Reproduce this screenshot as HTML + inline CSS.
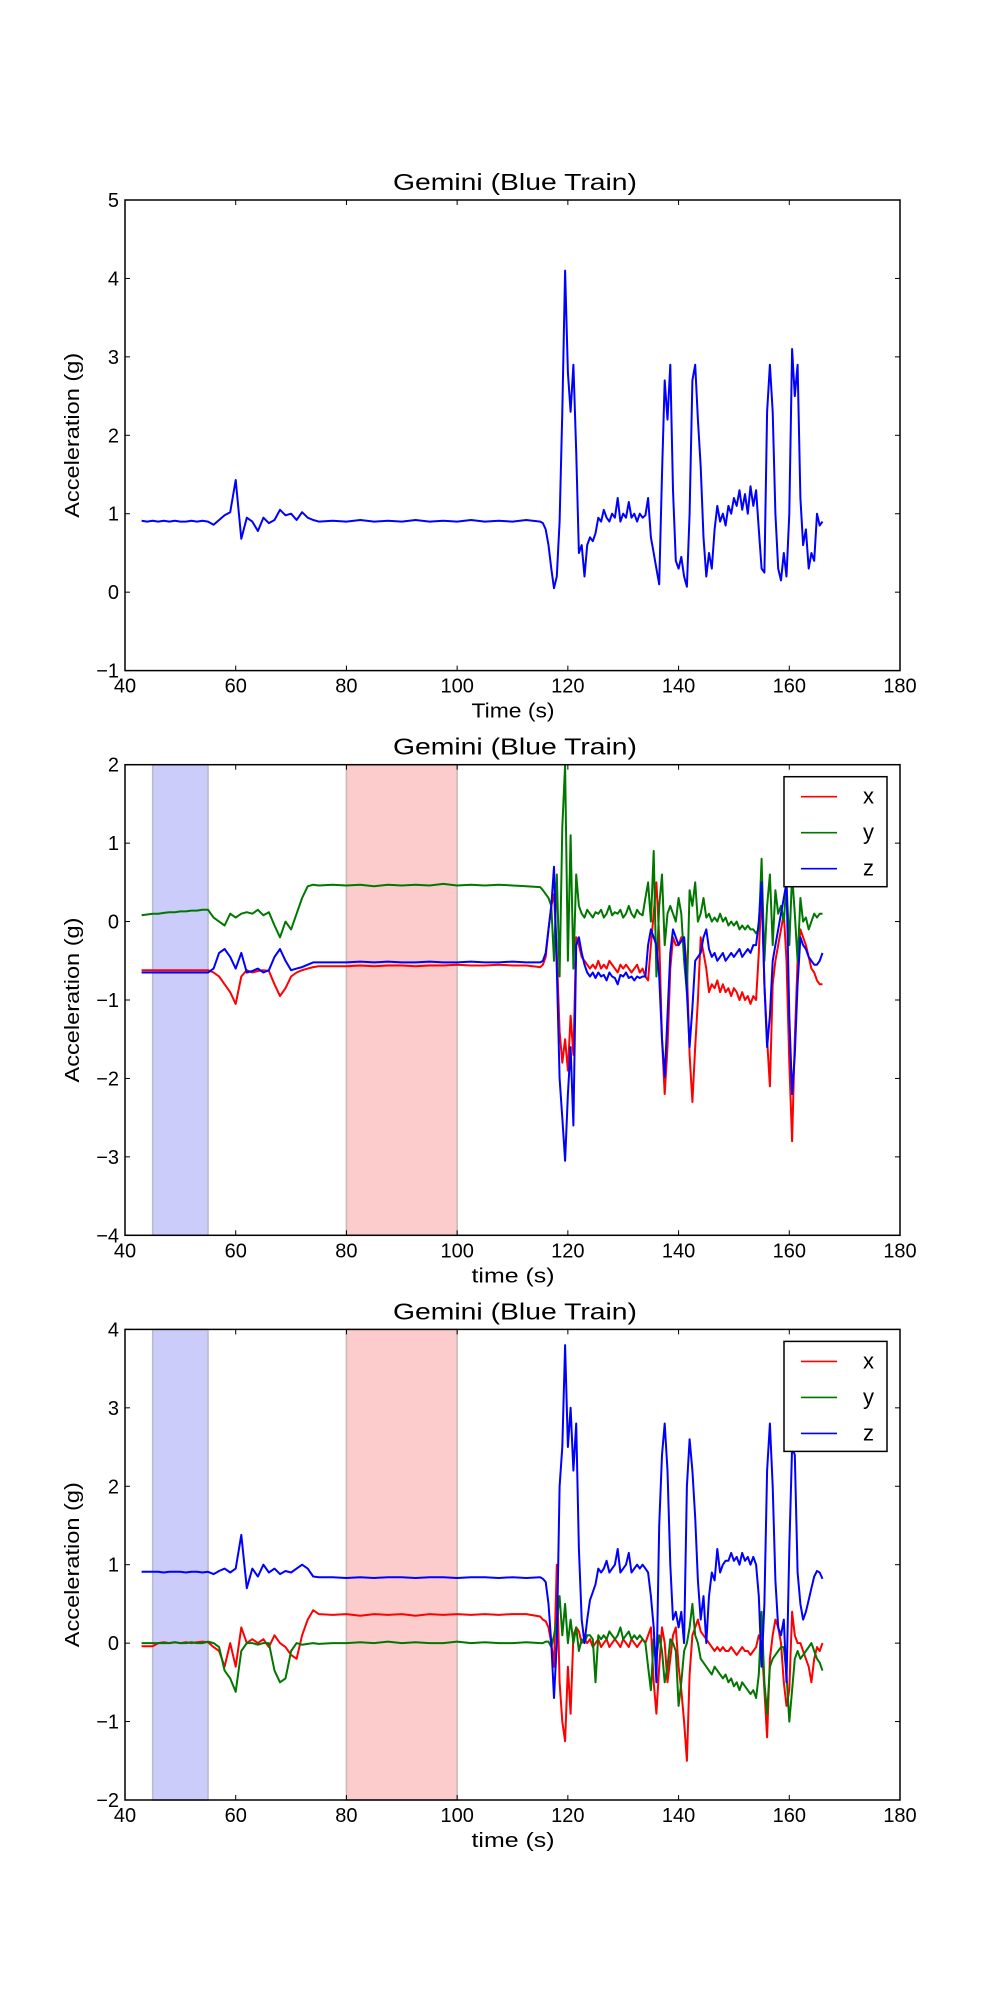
<!DOCTYPE html>
<html><head><meta charset="utf-8"><style>
html,body{margin:0;padding:0;background:#fff;}
svg{display:block;font-family:"Liberation Sans","DejaVu Sans",sans-serif;}
</style></head><body>
<svg id="fig" width="1000" height="2000" viewBox="0 0 1000 2000" xmlns="http://www.w3.org/2000/svg"></svg>
<script>
// ---- data ----
const tQuiet = [43,44,45,46,47,48,49,50,51,52,53,54,55,56,57,58,59,60,61,62,63,64,65,66,67,68,69,70,71,72,73,74,75,77.5,80,82.5,85,87.5,90,92.5,95,97.5,100,102.5,105,107.5,110,112.5];
const tActive = [115,115.5,116,116.5,117,117.5,118,118.5,119,119.5,120,120.5,121,121.5,122,122.5,123,123.5,124,124.5,125,125.5,126,126.5,127,127.5,128,128.5,129,129.5,130,130.5,131,131.5,132,132.5,133,133.5,134,134.5,135,135.5,136,136.5,137,137.5,138,138.5,139,139.5,140,140.5,141,141.5,142,142.5,143,143.5,144,144.5,145,145.5,146,146.5,147,147.5,148,148.5,149,149.5,150,150.5,151,151.5,152,152.5,153,153.5,154,154.5,155,155.5,156,156.5,157,157.5,158,158.5,159,159.5,160,160.5,161,161.5,162,162.5,163,163.5,164,164.5,165,165.5,166];

// plot 1: magnitude
const magQuiet = [0.91,0.9,0.91,0.9,0.91,0.9,0.91,0.9,0.9,0.91,0.9,0.91,0.9,0.86,0.92,0.98,1.02,1.43,0.68,0.95,0.9,0.78,0.95,0.88,0.92,1.05,0.98,1.0,0.92,1.02,0.95,0.92,0.9,0.91,0.9,0.92,0.9,0.91,0.9,0.92,0.9,0.91,0.9,0.92,0.9,0.91,0.9,0.92];
const magActive = [0.9,0.88,0.8,0.6,0.3,0.05,0.2,0.9,2.3,4.1,2.8,2.3,2.9,1.8,0.5,0.6,0.2,0.6,0.7,0.65,0.75,0.95,0.9,1.05,0.95,0.9,1.0,0.95,1.2,0.9,1.0,0.95,1.15,0.95,1.0,0.9,1.0,0.95,0.98,1.2,0.7,0.5,0.3,0.1,1.5,2.7,2.2,2.9,1.3,0.4,0.3,0.45,0.2,0.07,1.0,2.7,2.9,2.2,1.6,0.7,0.2,0.5,0.3,0.8,1.1,0.9,1.0,0.85,1.1,1.0,1.2,1.1,1.3,1.05,1.25,1.0,1.35,1.1,1.3,0.8,0.3,0.25,2.3,2.9,2.3,1.0,0.3,0.15,0.5,0.2,1.0,3.1,2.5,2.9,1.2,0.6,0.8,0.3,0.5,0.4,1.0,0.85,0.9];

// plot 2
const x2Quiet = [-0.62,-0.62,-0.62,-0.62,-0.62,-0.62,-0.62,-0.62,-0.62,-0.62,-0.62,-0.62,-0.62,-0.65,-0.7,-0.8,-0.9,-1.05,-0.7,-0.62,-0.65,-0.63,-0.62,-0.63,-0.8,-0.95,-0.85,-0.7,-0.65,-0.62,-0.6,-0.58,-0.57,-0.57,-0.57,-0.56,-0.57,-0.56,-0.56,-0.57,-0.56,-0.56,-0.55,-0.56,-0.56,-0.55,-0.56,-0.56];
const x2Active = [-0.58,-0.55,-0.45,-0.1,0.2,0.35,-0.4,-1.4,-1.8,-1.5,-1.9,-1.2,-1.7,-0.2,-0.3,-0.45,-0.5,-0.55,-0.6,-0.55,-0.6,-0.5,-0.6,-0.55,-0.6,-0.5,-0.55,-0.6,-0.65,-0.55,-0.6,-0.55,-0.6,-0.65,-0.6,-0.55,-0.65,-0.6,-0.7,-0.75,-0.3,0.1,0.5,-0.2,-1.5,-2.2,-1.6,-0.6,-0.2,-0.3,-0.3,-0.2,-0.2,-0.6,-1.7,-2.3,-1.6,-1.0,-0.2,-0.4,-0.6,-0.9,-0.8,-0.85,-0.75,-0.9,-0.8,-0.9,-0.85,-0.95,-0.85,-0.9,-1.0,-0.9,-1.0,-0.95,-1.05,-0.95,-1.0,-0.4,0.4,-0.8,-1.5,-2.1,-0.8,-0.5,-0.3,-0.1,0.1,-0.5,-1.8,-2.8,-1.5,-0.5,-0.1,-0.2,-0.3,-0.45,-0.6,-0.65,-0.75,-0.8,-0.8];
const y2Quiet = [0.08,0.09,0.1,0.1,0.11,0.12,0.12,0.13,0.13,0.14,0.14,0.15,0.15,0.05,0.0,-0.05,0.1,0.05,0.1,0.12,0.1,0.15,0.08,0.12,-0.05,-0.2,0.0,-0.1,0.1,0.3,0.45,0.47,0.46,0.47,0.46,0.47,0.45,0.47,0.46,0.47,0.46,0.48,0.46,0.47,0.46,0.47,0.46,0.45];
const y2Active = [0.44,0.4,0.35,0.3,0.2,-0.5,0.6,-0.7,1.2,2.0,-0.5,1.1,-0.6,0.6,0.2,0.1,0.05,0.15,0.1,0.05,0.12,0.1,0.15,0.05,0.1,0.2,0.08,0.12,0.1,0.15,0.05,0.1,0.2,0.1,0.05,0.15,0.1,0.08,0.3,0.5,0.0,0.9,-0.7,0.2,0.6,-0.3,0.1,0.2,0.1,0.0,0.3,0.1,-0.5,-0.9,0.4,0.2,0.5,0.0,0.1,0.3,0.05,0.1,0.0,0.05,0.0,0.1,0.0,0.05,-0.05,0.0,-0.05,0.0,-0.1,-0.05,-0.1,-0.05,-0.1,-0.1,-0.15,-0.1,0.8,-0.5,0.2,0.6,-0.3,0.4,0.1,0.2,0.0,0.5,-0.3,0.6,0.1,-0.5,0.3,0.0,0.05,-0.1,0.0,0.1,0.05,0.1,0.1];
const z2Quiet = [-0.65,-0.65,-0.65,-0.65,-0.65,-0.65,-0.65,-0.65,-0.65,-0.65,-0.65,-0.65,-0.65,-0.6,-0.4,-0.35,-0.45,-0.6,-0.4,-0.65,-0.63,-0.6,-0.65,-0.62,-0.45,-0.35,-0.5,-0.62,-0.6,-0.58,-0.55,-0.52,-0.52,-0.52,-0.52,-0.51,-0.52,-0.51,-0.52,-0.52,-0.51,-0.52,-0.52,-0.51,-0.52,-0.52,-0.51,-0.52];
const z2Active = [-0.52,-0.5,-0.4,-0.1,0.2,0.7,-0.6,-2.0,-2.5,-3.05,-2.2,-1.6,-2.6,-0.3,-0.2,-0.4,-0.55,-0.65,-0.7,-0.65,-0.72,-0.65,-0.7,-0.68,-0.75,-0.65,-0.7,-0.72,-0.8,-0.68,-0.7,-0.65,-0.72,-0.7,-0.75,-0.7,-0.72,-0.7,-0.7,-0.3,-0.1,-0.2,-0.3,-0.7,-1.5,-1.98,-1.2,-0.4,-0.1,-0.2,-0.3,-0.25,-0.2,-0.9,-1.6,-1.1,-0.5,-0.45,-0.4,-0.2,-0.1,-0.35,-0.45,-0.4,-0.5,-0.45,-0.4,-0.5,-0.45,-0.4,-0.45,-0.4,-0.35,-0.45,-0.4,-0.35,-0.4,-0.3,-0.3,0.0,0.5,-0.8,-1.6,-1.2,-0.5,-0.3,-0.1,0.1,0.3,0.5,-1.2,-2.2,-1.7,-0.8,-0.2,-0.3,-0.35,-0.45,-0.5,-0.55,-0.55,-0.5,-0.4];

// plot 3
const x3Quiet = [-0.04,-0.04,-0.04,0.0,0.01,0.0,0.01,0.0,0.01,0.0,0.01,0.02,0.01,-0.05,-0.1,-0.3,0.0,-0.3,0.2,0.0,0.05,0.0,0.05,-0.05,0.1,0.0,-0.05,-0.15,-0.2,0.1,0.3,0.42,0.37,0.36,0.37,0.35,0.37,0.36,0.37,0.35,0.37,0.36,0.37,0.36,0.37,0.36,0.37,0.37];
const x3Active = [0.34,0.3,0.28,0.2,0.0,-0.3,1.0,-0.5,-1.0,-1.25,-0.3,-0.9,0.1,0.2,0.15,0.0,0.05,0.0,0.05,-0.05,0.0,0.05,-0.05,0.0,0.05,-0.05,0.0,0.05,0.0,-0.05,0.05,0.0,-0.05,0.05,0.0,-0.05,0.0,0.05,0.0,0.1,0.2,-0.5,-0.9,-0.3,0.2,0.0,-0.5,-0.2,0.1,0.2,-0.3,-0.6,-1.0,-1.5,-0.4,0.1,0.2,0.3,0.15,0.1,0.05,0.0,-0.05,-0.1,-0.05,-0.1,-0.05,-0.1,-0.1,-0.05,-0.1,-0.15,-0.1,-0.05,-0.1,-0.1,-0.15,-0.1,-0.05,0.1,0.0,-0.6,-1.2,-0.2,0.1,0.3,0.2,0.0,-0.5,-0.8,-0.6,0.4,0.1,0.0,0.0,-0.1,-0.2,-0.3,-0.5,-0.2,-0.05,-0.1,0.0];
const y3Quiet = [0.0,0.0,0.0,0.0,0.0,0.0,0.01,0.0,0.0,0.01,0.0,0.0,0.02,0.0,-0.05,-0.35,-0.45,-0.62,-0.1,0.0,0.0,-0.02,0.0,0.0,-0.35,-0.5,-0.45,-0.1,0.0,-0.02,-0.01,0.0,-0.01,0.0,0.0,0.01,0.0,0.02,0.0,0.01,0.0,0.0,0.02,0.0,0.01,0.0,0.0,0.01];
const y3Active = [0.0,0.0,0.02,0.02,-0.05,0.1,0.3,0.6,0.1,0.5,0.0,0.3,0.0,0.2,-0.1,0.05,0.0,0.1,0.1,0.05,-0.5,0.1,0.05,0.1,0.05,0.15,0.1,0.05,0.1,0.2,0.05,0.1,0.15,0.05,0.1,0.05,0.1,0.05,0.0,-0.3,-0.6,0.05,-0.2,0.1,-0.1,-0.5,-0.3,0.05,0.0,-0.1,-0.8,-0.5,-0.1,0.0,0.2,0.5,0.1,0.0,-0.2,-0.25,-0.3,-0.35,-0.4,-0.3,-0.35,-0.4,-0.45,-0.4,-0.5,-0.45,-0.55,-0.5,-0.6,-0.5,-0.55,-0.6,-0.65,-0.6,-0.7,-0.4,0.4,-0.5,-0.9,-0.3,-0.2,-0.15,-0.1,-0.05,-0.05,-0.4,-1.0,-0.6,-0.2,-0.1,-0.2,-0.15,-0.1,-0.05,0.0,-0.1,-0.2,-0.25,-0.35];
const z3Quiet = [0.91,0.91,0.91,0.91,0.9,0.91,0.91,0.91,0.9,0.91,0.91,0.9,0.91,0.88,0.92,0.95,0.9,0.95,1.38,0.7,0.95,0.85,1.0,0.9,0.95,0.88,0.92,0.9,0.95,1.0,0.95,0.85,0.84,0.84,0.83,0.84,0.83,0.84,0.84,0.83,0.84,0.84,0.83,0.84,0.84,0.83,0.84,0.83];
const z3Active = [0.84,0.82,0.78,0.5,0.0,-0.7,0.0,2.0,2.5,3.8,2.5,3.0,2.2,2.8,1.2,0.3,0.0,0.3,0.55,0.65,0.75,0.95,0.9,0.95,1.05,0.9,0.95,1.0,1.2,0.9,0.95,1.0,1.15,0.9,0.95,1.0,0.95,1.0,0.95,0.9,0.6,0.2,-0.5,1.5,2.4,2.8,2.2,1.0,0.3,0.4,0.2,0.4,0.0,2.0,2.6,2.2,1.6,0.8,0.3,0.6,0.0,0.6,0.9,0.8,1.2,0.9,1.0,1.05,1.05,1.15,1.05,1.1,1.0,1.15,1.05,1.1,1.0,1.1,1.0,0.6,-0.3,0.5,2.2,2.8,2.0,0.8,0.2,0.1,0.3,-0.5,1.2,2.5,2.4,0.9,0.5,0.3,0.4,0.55,0.7,0.85,0.92,0.9,0.82];

const xTicks = [40,60,80,100,120,140,160,180];
const yTicks1 = [-1,0,1,2,3,4,5];
const yTicks2 = [-4,-3,-2,-1,0,1,2];
const yTicks3 = [-2,-1,0,1,2,3,4];
const spanBlue = [45,55];
const spanRed = [80,100];
const legendLabels = ['x','y','z'];

// ---- drawing ----
const NS = 'http://www.w3.org/2000/svg';
const fig = document.getElementById('fig');
const COLORS = {x:'#ff0000', y:'#007800', z:'#0000ff'};
function mk(tag, attrs, parent){
  const e = document.createElementNS(NS, tag);
  for (const k in attrs) e.setAttribute(k, attrs[k]);
  (parent||fig).appendChild(e);
  return e;
}
const L = 125, R = 900, H = 470.6, GAP = 94.1;
function xs(t){ return L + (t - 40) / 140 * (R - L); }
function series(tq, vq, ta, va){
  const t = tq.concat(ta), v = vq.concat(va);
  const n = Math.min(t.length, v.length);
  return {t: t.slice(0,n), v: v.slice(0,n)};
}
function drawAxes(idx, yTicks, xlabel, lines, withSpans, withLegend){
  const top = 200 + idx * (H + GAP), bot = top + H;
  const y0 = yTicks[0], y1 = yTicks[yTicks.length-1];
  const ys = v => bot - (v - y0) / (y1 - y0) * H;
  const g = mk('g', {});
  
  
  const clipId = 'clip' + idx;
  const cp = mk('clipPath', {id: clipId}, g);
  mk('rect', {x: L, y: top, width: R-L, height: H}, cp);
  if (withSpans){
    const sb = mk('rect', {x: xs(spanBlue[0]), y: top, width: xs(spanBlue[1]) - xs(spanBlue[0]), height: H, fill: '#ccccfa', stroke: '#b8b8d0', 'stroke-width': 1.5}, g);
    
    
    const sr = mk('rect', {x: xs(spanRed[0]), y: top, width: xs(spanRed[1]) - xs(spanRed[0]), height: H, fill: '#fccccc', stroke: '#c8b8b8', 'stroke-width': 1.5}, g);
    
    
  }
  const lg = mk('g', {'clip-path': 'url(#' + clipId + ')'}, g);
  lines.forEach(ln => {
    let d = '';
    for (let i = 0; i < ln.s.t.length; i++) d += (i ? 'L' : 'M') + xs(ln.s.t[i]).toFixed(1) + ' ' + ys(ln.s.v[i]).toFixed(1);
    const p = mk('path', {d: d, fill: 'none', stroke: ln.c, 'stroke-width': 2, 'stroke-linejoin': 'round'}, lg);
    
    
  });
  const fr = mk('rect', {x: L, y: top, width: R-L, height: H, fill: 'none', stroke: '#000', 'stroke-width': 1.5}, g);
  
  
  xTicks.forEach(t => {
    const x = xs(t);
    mk('line', {x1: x, y1: bot, x2: x, y2: bot-5, stroke: '#000', 'stroke-width': 1}, g);
    mk('line', {x1: x, y1: top, x2: x, y2: top+5, stroke: '#000', 'stroke-width': 1}, g);
    const tx = mk('text', {x: x, y: bot + 22, 'font-size': 20, 'text-anchor': 'middle'}, g);
    tx.textContent = String(t);
    
    
  });
  yTicks.forEach(v => {
    const y = ys(v);
    mk('line', {x1: L, y1: y, x2: L+5, y2: y, stroke: '#000', 'stroke-width': 1}, g);
    mk('line', {x1: R, y1: y, x2: R-5, y2: y, stroke: '#000', 'stroke-width': 1}, g);
    const tx = mk('text', {x: 119, y: y + 7, 'font-size': 20, 'text-anchor': 'end'}, g);
    tx.textContent = (v < 0 ? '\u2212' + Math.abs(v) : String(v));
    
    
  });
  const ti = mk('text', {x: 515, y: top - 10, 'font-size': 23, 'text-anchor': 'middle', textLength: 244, lengthAdjust: 'spacingAndGlyphs'}, g);
  ti.textContent = 'Gemini (Blue Train)';
  
  
  const xl = mk('text', {x: 513, y: bot + 47, 'font-size': 20, 'text-anchor': 'middle', textLength: 83, lengthAdjust: 'spacingAndGlyphs'}, g);
  xl.textContent = xlabel;
  
  
  const cy = (top + bot) / 2;
  const yl = mk('text', {x: 0, y: 0, 'font-size': 20, 'text-anchor': 'middle', textLength: 165, lengthAdjust: 'spacingAndGlyphs', transform: 'translate(79,' + cy + ') rotate(-90)'}, g);
  yl.textContent = 'Acceleration (g)';
  
  
  if (withLegend){
    const lgd = mk('g', {}, g);
    
    
    const by = top + 12;
    mk('rect', {x: 784, y: by, width: 103, height: 110, fill: '#fff', stroke: '#000', 'stroke-width': 1.5}, lgd);
    legendLabels.forEach((lab, i) => {
      const ry = by + 20 + i * 36;
      const e = mk('g', {}, lgd);
      
      
      mk('line', {x1: 801, y1: ry, x2: 837, y2: ry, stroke: COLORS[lab], 'stroke-width': 1.6}, e);
      const tx = mk('text', {x: 863, y: ry + 7, 'font-size': 22}, e);
      tx.textContent = lab;
    });
  }
}
drawAxes(0, yTicks1, 'Time (s)', [{s: series(tQuiet, magQuiet, tActive, magActive), c: COLORS.z, name: 'magnitude-line'}], false, false);
drawAxes(1, yTicks2, 'time (s)', [
  {s: series(tQuiet, x2Quiet, tActive, x2Active), c: COLORS.x, name: 'x-line'},
  {s: series(tQuiet, y2Quiet, tActive, y2Active), c: COLORS.y, name: 'y-line'},
  {s: series(tQuiet, z2Quiet, tActive, z2Active), c: COLORS.z, name: 'z-line'}], true, true);
drawAxes(2, yTicks3, 'time (s)', [
  {s: series(tQuiet, x3Quiet, tActive, x3Active), c: COLORS.x, name: 'x-line'},
  {s: series(tQuiet, y3Quiet, tActive, y3Active), c: COLORS.y, name: 'y-line'},
  {s: series(tQuiet, z3Quiet, tActive, z3Active), c: COLORS.z, name: 'z-line'}], true, true);
</script>
</body></html>
